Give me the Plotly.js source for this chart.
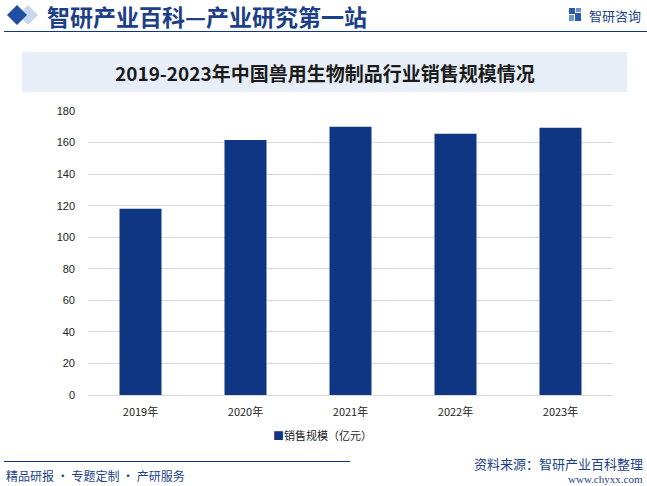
<!DOCTYPE html>
<html><head><meta charset="utf-8">
<script src="https://cdn.plot.ly/plotly-3.0.1.min.js"></script>
<style>body{margin:0;padding:0;background:#fff}#chart{width:647px;height:486px}</style>
</head><body><div id="chart"></div>
<script>
const categories = ["2019年","2020年","2021年","2022年","2023年"];
const salesValues = [118, 161.6, 170, 165.6, 169.4];
const seriesName = "销售规模（亿元）";
const yTicks = [0,20,40,60,80,100,120,140,160,180];

const cjk = '"Noto Sans CJK SC", "Microsoft YaHei", sans-serif';
const navy = "#0e3682";
const L = 88, T = 111, W = 525, H = 284;
const px = x => (x - L) / W;
const py = y => (T + H - y) / H;

function diamond(cx, cy, r, color) {
  return {type: "path", xref: "paper", yref: "paper", layer: "above",
    path: `M ${px(cx-r)} ${py(cy)} L ${px(cx)} ${py(cy-r)} L ${px(cx+r)} ${py(cy)} L ${px(cx)} ${py(cy+r)} Z`,
    fillcolor: color, line: {width: 0}};
}
function rectPx(x0, y0, x1, y1, color, layer) {
  return {type: "rect", xref: "paper", yref: "paper", x0: px(x0), x1: px(x1), y0: py(y1), y1: py(y0),
    fillcolor: color, line: {width: 0}, layer: layer || "above"};
}
function linePx(x0, y0, x1, y1, color, w) {
  return {type: "line", xref: "paper", yref: "paper", x0: px(x0), x1: px(x1), y0: py(y0), y1: py(y1),
    line: {color: color, width: w}};
}
function ann(x, y, text, size, color, anchor, extra) {
  return Object.assign({xref: "paper", yref: "paper", x: px(x), y: py(y), text: text, showarrow: false,
    xanchor: anchor, yanchor: "middle", font: {size: size, color: color, family: cjk}}, extra || {});
}

const data = [{
  type: "bar",
  x: categories,
  y: salesValues,
  name: seriesName,
  marker: {color: navy},
  showlegend: false
}];

const layout = {
  width: 647, height: 486,
  margin: {l: L, r: 647 - L - W, t: T, b: 486 - T - H},
  paper_bgcolor: "#fff", plot_bgcolor: "#fff",
  bargap: 0.6,
  font: {family: cjk, color: "#333", size: 11},
  xaxis: {type: "category", showgrid: false, zeroline: false, showline: false,
    ticks: "", ticklabelstandoff: 9, tickfont: {size: 11, color: "#222", family: cjk}},
  yaxis: {range: [0, 180], tickvals: yTicks, showgrid: true, gridcolor: "#d9d9d9", gridwidth: 1,
    zeroline: true, zerolinecolor: "#d9d9d9", showline: false, ticks: "", ticklabelstandoff: 12,
    tickfont: {size: 11, color: "#222", family: "Arial, Liberation Sans, sans-serif"}},
  showlegend: false,
  shapes: [
    rectPx(22, 52, 627, 92, "#e8eef8", "below"),
    diamond(28, 15, 10, "#c9d6ec"),
    diamond(17, 15, 10, "#1f4ea3"),
    linePx(4, 31.5, 647, 31.5, navy, 1.2),
    linePx(4, 461.5, 350, 461.5, navy, 1),
    rectPx(569, 8, 575, 14, "#2a5aa8"),
    rectPx(576, 8, 581, 12, "#6f93cc"),
    rectPx(569, 15, 574, 21, "#6f93cc"),
    rectPx(575, 13, 581, 21, "#2a5aa8")
  ],
  annotations: [
    ann(45, 16, "智研产业百科—产业研究第一站", 23, "#1c3f87", "left", {font: {size: 23, color: "#1c3f87", family: cjk, weight: "bold"}}),
    ann(643, 15, "智研咨询", 13, "#1c3f87", "right"),
    ann(325, 73, "2019-2023年中国兽用生物制品行业销售规模情况", 19, "#1a1a1a", "center", {font: {size: 19, color: "#1a1a1a", family: cjk, weight: "bold"}}),
    ann(322, 435, `<span style="color:${navy}">■</span>${seriesName}`, 11, "#222", "center"),
    ann(4, 475, "精品研报 · 专题定制 · 产研服务", 12, "#1c3f87", "left"),
    ann(645, 463, "资料来源：智研产业百科整理", 13, "#1c3f87", "right"),
    ann(645, 479, "www.chyxx.com", 11, "#1c3f87", "right", {font: {size: 11, color: "#1c3f87", family: "Liberation Serif, serif"}})
  ]
};

Plotly.newPlot("chart", data, layout, {displayModeBar: false, staticPlot: true});
</script></body></html>
